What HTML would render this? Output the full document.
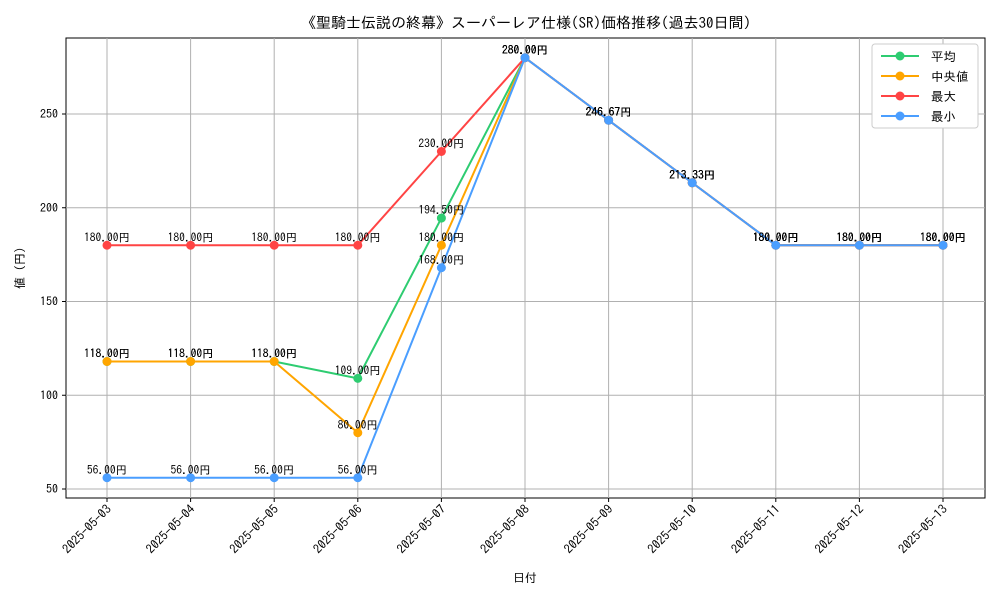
<!DOCTYPE html>
<html><head><meta charset="utf-8"><style>
body{margin:0;background:#fff}
svg{font-family:"IPAGothic","Liberation Sans","Noto Sans CJK JP",sans-serif}
</style></head><body>
<svg id="chart" width="1000" height="600">
<rect x="66" y="38" width="919" height="460" fill="#fff" stroke="#000" stroke-width="1"/>
<g id="grid"></g><g id="axes"></g><g id="series"></g><g id="labels"></g>
<text x="526" y="28" text-anchor="middle" font-size="15">《聖騎士伝説の終幕》スーパーレア仕様(SR)価格推移(過去30日間)</text>
<text x="525" y="582" text-anchor="middle" font-size="12">日付</text>
<text transform="translate(24,268) rotate(-90)" text-anchor="middle" font-size="12">値 (円)</text>
<g>
<rect x="872" y="44" width="106" height="84" fill="#fff" stroke="#ccc" rx="3"/>
<g id="legend"></g>
</g>
</svg>
<script>
const categories=["2025-05-03","2025-05-04","2025-05-05","2025-05-06","2025-05-07","2025-05-08","2025-05-09","2025-05-10","2025-05-11","2025-05-12","2025-05-13"];
const avgValues=[118,118,118,109,194.5,280,246.67,213.33,180,180,180];
const medianValues=[118,118,118,80,180,280,246.67,213.33,180,180,180];
const maxValues=[180,180,180,180,230,280,246.67,213.33,180,180,180];
const minValues=[56,56,56,56,168,280,246.67,213.33,180,180,180];
const yTicks=[50,100,150,200,250];
const seriesNames=["平均"," 中央値","最大","最小"];
const NS="http://www.w3.org/2000/svg";
const xs=i=>107+i*(943-107)/(categories.length-1);
const ys=v=>489-(v-50)*1.875;
function mk(tag,attrs,parent){const e=document.createElementNS(NS,tag);for(const k in attrs)e.setAttribute(k,attrs[k]);document.getElementById(parent).appendChild(e);return e;}
categories.forEach((c,i)=>{
 const g=mk("line",{x1:xs(i),x2:xs(i),y1:38,y2:498,stroke:"#b0b0b0","stroke-width":1},"grid");
 
 
 const t=mk("line",{x1:xs(i),x2:xs(i),y1:498,y2:502,stroke:"#000"},"axes");
 
 
 const l=mk("text",{transform:`translate(${xs(i)+5},510) rotate(-45)`,"text-anchor":"end","font-size":12.5},"axes");
 l.textContent=c;
 
 
});
yTicks.forEach(v=>{
 const g=mk("line",{x1:66,x2:985,y1:ys(v),y2:ys(v),stroke:"#b0b0b0","stroke-width":1},"grid");
 
 
 const t=mk("line",{x1:62,x2:66,y1:ys(v),y2:ys(v),stroke:"#000"},"axes");
 
 
 const l=mk("text",{x:58,y:ys(v)+4,"text-anchor":"end","font-size":12},"axes");
 l.textContent=v;
 
 
});
const allSeries=[avgValues,medianValues,maxValues,minValues];
const colors=["#2ecc71","#ffa500","#ff4444","#4a9eff"];
const keys=["avg","median","max","min"];
allSeries.forEach((vals,s)=>{
 const p=mk("polyline",{points:vals.map((v,i)=>xs(i)+","+ys(v)).join(" "),fill:"none",stroke:colors[s],"stroke-width":2},"series");
 
 
 vals.forEach((v,i)=>{
  const c=mk("circle",{cx:xs(i),cy:ys(v),r:4.5,fill:colors[s]},"series");
  
  
  const t=mk("text",{x:xs(i),y:ys(v)-4,"text-anchor":"middle","font-size":11.5},"labels");
  t.textContent=v.toFixed(2)+"円";
  
  
 });
 const ly=56+s*20;
 const ll=mk("line",{x1:881,x2:919,y1:ly,y2:ly,stroke:colors[s],"stroke-width":2},"legend");
 
 
 const lc=mk("circle",{cx:900,cy:ly,r:4.5,fill:colors[s]},"legend");
 
 
 const lt=mk("text",{x:931,y:ly+5,"font-size":12.5,"xml:space":"preserve"},"legend");
 lt.textContent=seriesNames[s];
 
 
});
</script>
</body></html>
